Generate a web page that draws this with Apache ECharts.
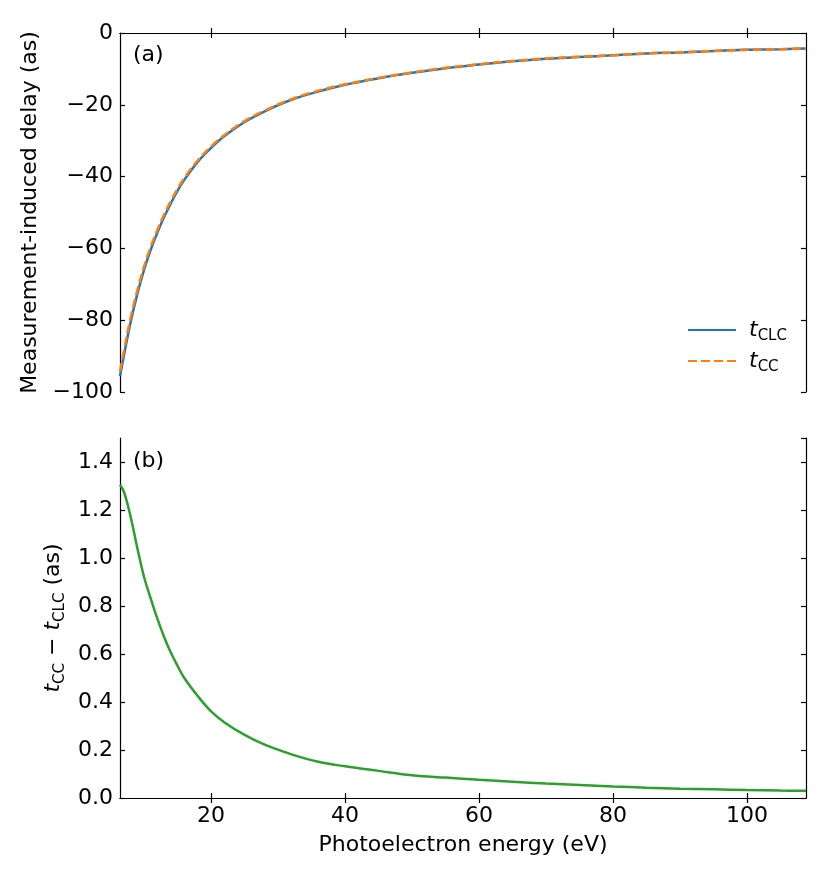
<!DOCTYPE html>
<html>
<head>
<meta charset="utf-8">
<script src="https://cdn.jsdelivr.net/npm/echarts@6/dist/echarts.min.js"></script>
<style>
  html, body { margin: 0; padding: 0; background: #fff; }
  #main { width: 830px; height: 879px; }
</style>
</head>
<body>
<div id="main"></div>
<script>
// photoelectron energy (eV)
var energy = [6.4, 7, 8, 9, 10, 11, 12, 13, 14, 15, 16, 18, 20, 22, 25, 28, 32, 36, 40,
  45, 50, 55, 60, 65, 70, 75, 80, 85, 90, 95, 100, 105, 108.8];
// measurement-induced delay, CLC (as)
var tClc = [-95.6, -89.7, -80.4, -72.6, -65.9, -60.3, -55.5, -51.2, -47.4, -43.9, -40.9, -35.9,
  -32.0, -28.7, -24.8, -21.8, -18.6, -16.3, -14.4, -12.6, -11.1, -9.8, -8.8, -7.9, -7.2,
  -6.7, -6.2, -5.7, -5.4, -5.0, -4.7, -4.5, -4.3];
// measurement-induced delay, CC (as)
var tCc = [-94.3, -88.4, -79.2, -71.6, -65.0, -59.5, -54.8, -50.5, -46.8, -43.4, -40.4, -35.5,
  -31.6, -28.4, -24.5, -21.6, -18.4, -16.1, -14.3, -12.5, -11.0, -9.7, -8.7, -7.8, -7.1,
  -6.6, -6.2, -5.7, -5.4, -5.0, -4.7, -4.5, -4.3];
// tCC - tCLC (as)
var diff = [1.305, 1.275, 1.17, 1.04, 0.92, 0.83, 0.745, 0.67, 0.605, 0.55, 0.50, 0.425,
  0.361, 0.315, 0.263, 0.222, 0.182, 0.151, 0.132, 0.113, 0.095, 0.085, 0.076, 0.068, 0.060,
  0.054, 0.048, 0.043, 0.039, 0.036, 0.033, 0.031, 0.030];
var xTicks = [20, 40, 60, 80, 100];

var font = 'DejaVu Sans';
var fs = 22;
var subRich = {
  it: { fontFamily: font, fontStyle: 'italic', fontSize: fs, color: '#000', lineHeight: 28 },
  sub: { fontFamily: font, fontSize: 15, color: '#000', lineHeight: 14, verticalAlign: 'bottom' },
  n: { fontFamily: font, fontSize: fs, color: '#000', lineHeight: 28 }
};

function pairs(ys) {
  return energy.map(function (e, i) { return [e, ys[i]]; });
}

var myChart = echarts.init(document.getElementById('main'));

var axisLine = { show: true, lineStyle: { color: '#000', width: 1.2 } };
var tick = { show: true, inside: true, length: 5, lineStyle: { color: '#000', width: 1.2 } };
var labelStyle = { fontFamily: font, fontSize: fs, color: '#000' };

function xAxis(grid, pos, labels) {
  return {
    type: 'value', gridIndex: grid, position: pos, min: 6.4, max: 108.8,
    axisLine: axisLine, splitLine: { show: false },
    axisTick: Object.assign({ customValues: xTicks }, tick),
    axisLabel: Object.assign({ show: labels, margin: 7, customValues: xTicks }, labelStyle),
    name: labels ? 'Photoelectron energy (eV)' : '',
    nameLocation: 'middle', nameGap: 36,
    nameTextStyle: labelStyle
  };
}

function yAxis(grid, pos, lo, hi, step, labels, name, gap, fmt) {
  return {
    type: 'value', gridIndex: grid, position: pos, min: lo, max: hi, interval: step,
    axisLine: axisLine, splitLine: { show: false }, axisTick: tick,
    axisLabel: Object.assign({ show: labels, margin: 7, showMaxLabel: lo === 0 ? false : true, formatter: fmt }, labelStyle),
    name: name, nameLocation: 'middle', nameGap: gap,
    nameTextStyle: Object.assign({ rich: subRich }, labelStyle)
  };
}

var fmtTop = function (v) { return v < 0 ? '\u2212' + Math.abs(v) : String(v); };
var fmtBot = function (v) { return v.toFixed(1); };

var option = {
  animation: false,
  backgroundColor: '#fff',
  textStyle: { fontFamily: font },
  title: [
    { text: '(a)', left: 133, top: 44, padding: 0, textStyle: { fontFamily: font, fontSize: fs, fontWeight: 'normal', color: '#000' } },
    { text: '(b)', left: 133, top: 450, padding: 0, textStyle: { fontFamily: font, fontSize: fs, fontWeight: 'normal', color: '#000' } }
  ],
  grid: [
    { left: 120, right: 24, top: 33, height: 359 },
    { left: 120, right: 24, top: 438, height: 360 }
  ],
  legend: {
    orient: 'vertical', left: 682, top: 314, itemWidth: 48, itemHeight: 14, itemGap: 6,
    data: ['tCLC', 'tCC'],
    itemStyle: { opacity: 0 },
    formatter: function (name) {
      return name === 'tCLC' ? '{it|t}{sub|CLC}' : '{it|t}{sub|CC}';
    },
    textStyle: { rich: subRich, padding: [0, 0, 0, 8] }
  },
  xAxis: [
    xAxis(0, 'bottom', false),
    xAxis(0, 'top', false),
    xAxis(1, 'bottom', true),
    xAxis(1, 'top', false)
  ],
  yAxis: [
    yAxis(0, 'left', -100, 0, 20, true, 'Measurement-induced delay (as)', 70, fmtTop),
    yAxis(0, 'right', -100, 0, 20, false, '', 0, fmtTop),
    yAxis(1, 'left', 0, 1.5, 0.2, true, '{it|t}{sub|CC}{n| \u2212 }{it|t}{sub|CLC}{n| (as)}', 41, fmtBot),
    yAxis(1, 'right', 0, 1.5, 0.2, false, '', 0, fmtBot)
  ],
  series: [
    {
      name: 'tCLC', type: 'line', xAxisIndex: 0, yAxisIndex: 0, data: pairs(tClc),
      smooth: 0.4, symbol: 'none',
      lineStyle: { color: '#1f77b4', width: 2.5 }, itemStyle: { color: '#1f77b4' }
    },
    {
      name: 'tCC', type: 'line', xAxisIndex: 0, yAxisIndex: 0, data: pairs(tCc),
      smooth: 0.4, symbol: 'none',
      lineStyle: { color: '#ff7f0e', width: 2.5, type: [9, 4] }, itemStyle: { color: '#ff7f0e' }
    },
    {
      name: 'diff', type: 'line', xAxisIndex: 2, yAxisIndex: 2, data: pairs(diff),
      smooth: 0.4, symbol: 'none',
      lineStyle: { color: '#2ca02c', width: 2.5 }, itemStyle: { color: '#2ca02c' }
    }
  ]
};

myChart.setOption(option);
</script>
</body>
</html>
